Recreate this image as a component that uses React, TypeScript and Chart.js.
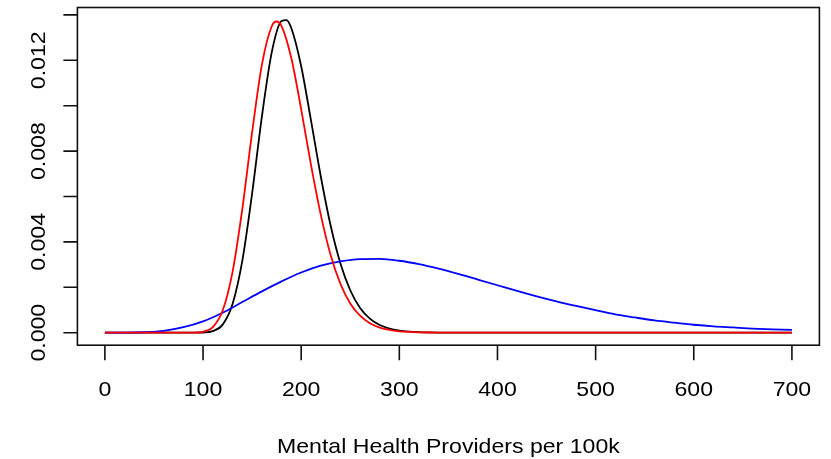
import React, { useEffect, useRef } from "react";
import { Chart, registerables } from "chart.js";

Chart.register(...registerables);

// ---- data ----
const blackX = [0, 50, 90, 100, 110, 120, 130, 140, 150, 160, 170, 180, 185, 190, 200, 210, 220, 230, 240, 250, 260, 270, 280, 290, 300, 310, 320, 330, 340, 360, 400, 500, 600, 700];
const blackY = [0, 0, 0.0000004, 0.0000076, 0.0000674, 0.000356, 0.001249, 0.00316, 0.006126, 0.00953, 0.01235, 0.01373, 0.01377, 0.01341, 0.01174, 0.00935, 0.00688, 0.00472, 0.00305, 0.00187, 0.00109, 0.00062, 0.000336, 0.000177, 0.000091, 0.000046, 0.000023, 0.000011, 0.000005, 0.000001, 0, 0, 0, 0];

const redX = [0, 50, 90, 100, 110, 120, 130, 140, 150, 160, 170, 175, 180, 190, 200, 210, 220, 230, 240, 250, 260, 270, 280, 290, 300, 310, 320, 330, 340, 360, 400, 500, 600, 700];
const redY = [0, 0, 0.000004, 0.000041, 0.00025, 0.000975, 0.00266, 0.00544, 0.00882, 0.01181, 0.0135, 0.01371, 0.01351, 0.01209, 0.00984, 0.00739, 0.00519, 0.00342, 0.00215, 0.00129, 0.000747, 0.000418, 0.000227, 0.00012, 0.000062, 0.000032, 0.000016, 0.000008, 0.000004, 0.000001, 0, 0, 0, 0];

const blueX = [0, 20, 40, 60, 80, 100, 120, 140, 160, 180, 200, 220, 240, 260, 280, 300, 320, 340, 360, 380, 400, 420, 440, 460, 480, 500, 520, 540, 560, 580, 600, 620, 640, 660, 680, 700];
const blueY = [0, 0, 0.00002, 0.00008, 0.00024, 0.0005, 0.00088, 0.00135, 0.00182, 0.00226, 0.00265, 0.00295, 0.00314, 0.00324, 0.00325, 0.00317, 0.00302, 0.00282, 0.00259, 0.00234, 0.00209, 0.00184, 0.0016, 0.00138, 0.00118, 0.00099, 0.00081, 0.00067, 0.00054, 0.00044, 0.00035, 0.00028, 0.00023, 0.00018, 0.00015, 0.00012];

const xTicks = [0, 100, 200, 300, 400, 500, 600, 700];
const xTickLabels = ["0", "100", "200", "300", "400", "500", "600", "700"];
const yTicks = [0, 0.002, 0.004, 0.006, 0.008, 0.01, 0.012, 0.014];
const yLabelValues = [0, 0.004, 0.008, 0.012];
const yLabelTexts = ["0.000", "0.004", "0.008", "0.012"];
const xTitle = "Mental Health Providers per 100k";

const FONT = '21px "Liberation Sans", Arial, sans-serif';
const STRETCH = 1.1;

function drawText(ctx: CanvasRenderingContext2D, text: string, x: number, y: number, rot: number) {
  ctx.save();
  ctx.translate(x, y);
  ctx.rotate(rot);
  ctx.scale(STRETCH, 1);
  ctx.fillText(text, 0, 0);
  ctx.restore();
}

const axesPlugin = {
  id: "rAxes",
  afterDraw(chart: any) {
    const { ctx, chartArea, scales } = chart;
    const xs = scales.x;
    const ys = scales.y;
    ctx.save();
    ctx.strokeStyle = "#111";
    ctx.lineWidth = 1.6;
    ctx.strokeRect(chartArea.left, chartArea.top, chartArea.right - chartArea.left, chartArea.bottom - chartArea.top);
    // x ticks
    ctx.beginPath();
    xTicks.forEach((v) => {
      const px = xs.getPixelForValue(v);
      ctx.moveTo(px, chartArea.bottom);
      ctx.lineTo(px, chartArea.bottom + 15);
    });
    yTicks.forEach((v) => {
      const py = ys.getPixelForValue(v);
      ctx.moveTo(chartArea.left, py);
      ctx.lineTo(chartArea.left - 14, py);
    });
    ctx.stroke();
    ctx.fillStyle = "#000";
    ctx.font = FONT;
    ctx.textAlign = "center";
    ctx.textBaseline = "alphabetic";
    xTicks.forEach((v, i) => {
      drawText(ctx, xTickLabels[i], xs.getPixelForValue(v), 396, 0);
    });
    yLabelValues.forEach((v, i) => {
      drawText(ctx, yLabelTexts[i], 45, ys.getPixelForValue(v), -Math.PI / 2);
    });
    drawText(ctx, xTitle, (chartArea.left + chartArea.right) / 2, 453, 0);
    ctx.restore();
  },
};

export default function App() {
  const ref = useRef<HTMLCanvasElement | null>(null);
  useEffect(() => {
    if (!ref.current) return;
    const pts = (xs: number[], ys: number[]) => xs.map((x, i) => ({ x, y: ys[i] }));
    const chart = new Chart(ref.current, {
      type: "line",
      data: {
        datasets: [
          { data: pts(redX, redY), borderColor: "#ff0000", borderWidth: 1.8, pointRadius: 0, cubicInterpolationMode: "monotone", fill: false },
          { data: pts(blueX, blueY), borderColor: "#0000ff", borderWidth: 1.8, pointRadius: 0, cubicInterpolationMode: "monotone", fill: false },
          { data: pts(blackX, blackY), borderColor: "#000000", borderWidth: 1.8, pointRadius: 0, cubicInterpolationMode: "monotone", fill: false },
        ],
      },
      options: {
        animation: false,
        responsive: false,
        devicePixelRatio: 1,
        layout: { padding: { left: 77.4, right: 11.6, top: 7.5, bottom: 113.8 } },
        plugins: { legend: { display: false }, tooltip: { enabled: false } },
        events: [],
        scales: {
          x: { type: "linear", display: false, min: -28, max: 728 },
          y: { type: "linear", display: false, min: -0.000551, max: 0.014326 },
        },
      },
      plugins: [axesPlugin],
    } as any);
    return () => chart.destroy();
  }, []);
  return (
    <div style={{ position: "fixed", left: 0, top: 0, width: 831, height: 459, background: "#fff" }}>
      <canvas ref={ref} width={831} height={459} style={{ display: "block" }} />
    </div>
  );
}
